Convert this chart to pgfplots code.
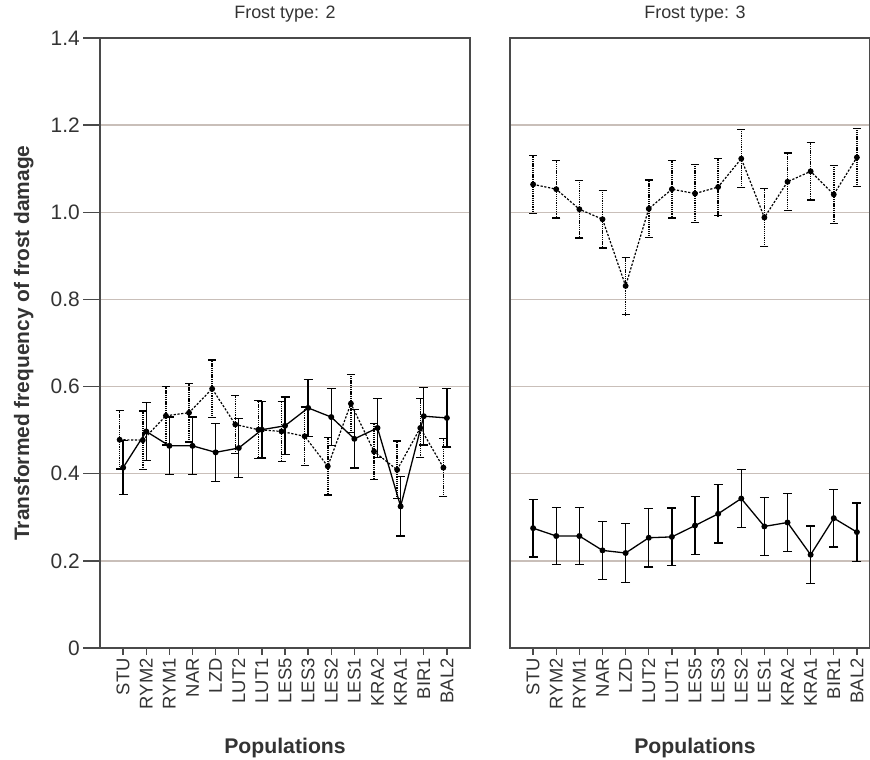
\documentclass[border=0pt]{standalone}
\usepackage{pgfplots}
\usepackage{pgfplotstable}
\pgfplotsset{compat=1.18}
\usepackage{fontspec}
\setmainfont{Liberation Sans}
\definecolor{framec}{HTML}{4A4A4A}
\definecolor{gridc}{HTML}{C9BFB9}

% x: category index (left dotted series is dodged a little to the left)
\pgfplotstableread{
x y e
-0.15 0.478 0.067
0.85 0.477 0.067
1.85 0.533 0.067
2.85 0.540 0.067
3.85 0.595 0.066
4.85 0.513 0.066
5.85 0.501 0.067
6.85 0.497 0.069
7.85 0.486 0.067
8.85 0.417 0.066
9.85 0.561 0.067
10.85 0.451 0.065
11.85 0.409 0.066
12.85 0.505 0.067
13.85 0.414 0.066
}\leftdot
\pgfplotstableread{
x y e
0 0.414 0.062
1 0.497 0.067
2 0.464 0.066
3 0.464 0.066
4 0.449 0.067
5 0.459 0.067
6 0.501 0.065
7 0.510 0.066
8 0.551 0.066
9 0.530 0.066
10 0.480 0.067
11 0.505 0.067
12 0.325 0.068
13 0.532 0.066
14 0.528 0.067
}\leftsolid
\pgfplotstableread{
x y e
0 1.064 0.066
1 1.053 0.066
2 1.007 0.066
3 0.984 0.066
4 0.831 0.066
5 1.008 0.066
6 1.053 0.066
7 1.043 0.067
8 1.058 0.066
9 1.123 0.067
10 0.988 0.066
11 1.070 0.066
12 1.094 0.066
13 1.041 0.067
14 1.126 0.067
}\rightdot
\pgfplotstableread{
x y e
0 0.275 0.066
1 0.257 0.066
2 0.257 0.066
3 0.224 0.067
4 0.218 0.067
5 0.253 0.067
6 0.255 0.066
7 0.281 0.067
8 0.308 0.067
9 0.343 0.067
10 0.279 0.067
11 0.288 0.067
12 0.214 0.066
13 0.298 0.066
14 0.266 0.067
}\rightsolid

\pgfplotsset{
  panel/.style={
    anchor=south west, scale only axis, height=610bp,
    ymin=0, ymax=1.4, xmin=-1,
    axis line style={draw=framec, line width=1.5bp},
    ytick={0.2,0.4,0.6,0.8,1.0,1.2}, yticklabels={},
    ymajorgrids, major grid style={draw=gridc, line width=1.4bp},
    xtick={0,...,14},
    xticklabels={STU,RYM2,RYM1,NAR,LZD,LUT2,LUT1,LES5,LES3,LES2,LES1,KRA2,KRA1,BIR1,BAL2},
    xticklabel style={rotate=90, anchor=east, font=\fontsize{18.5}{18.5}\selectfont, text=black!80},
    major tick length=6.7bp,
    x tick style={draw=framec, line width=1.4bp},
    y tick style={draw=none},
    tick align=outside, xtick pos=bottom, ytick pos=left,
    title style={anchor=base, font=\fontsize{18}{18}\selectfont, text=black!80},
    xlabel style={anchor=base, font=\bfseries\fontsize{21.3}{21.3}\selectfont, text=black!80},
    clip=false,
  },
  dotser/.style={black, line width=1.2bp, dash pattern=on 2.2bp off 1.6bp,
    mark=*, mark size=2.3bp, mark options={solid, fill=black},
    error bars/.cd, y dir=both, y explicit,
    error bar style={line width=1.5bp, dash pattern=on 1.3bp off 0.9bp},
    error mark options={rotate=90, mark size=4bp, solid, line width=1.2bp}},
  solser/.style={black, line width=1.3bp, solid,
    mark=*, mark size=2.3bp, mark options={solid, fill=black},
    error bars/.cd, y dir=both, y explicit,
    error bar style={line width=1.3bp, solid},
    error mark options={rotate=90, mark size=4.5bp, solid, line width=1.3bp}},
}

\begin{document}
\begin{tikzpicture}
\useasboundingbox (0,0) rectangle (870bp,760bp);
\begin{axis}[panel, at={(100bp,112bp)}, width=370bp, xmax=15,
  extra y ticks={0,0.2,0.4,0.6,0.8,1.0,1.2,1.4},
  extra y tick labels={0,0.2,0.4,0.6,0.8,1.0,1.2,1.4},
  extra y tick style={major tick length=16.7bp, grid=none,
    yticklabel style={font=\fontsize{21}{21}\selectfont, text=black!80},
    y tick style={draw=framec, line width=1.4bp}},
  title={Frost type: 2}, title style={at={(axis description cs:0.5,1.0215)}},
  xlabel={Populations}, xlabel style={at={(axis description cs:0.5,-0.173)}},
  ylabel={Transformed frequency of frost damage},
  ylabel style={at={(axis description cs:-0.206,0.5)}, anchor=center, rotate=0,
    font=\bfseries\fontsize{21}{21}\selectfont, text=black!80},
]
\addplot[dotser] table[x=x, y=y, y error=e] {\leftdot};
\addplot[solser] table[x=x, y=y, y error=e] {\leftsolid};
\end{axis}
\begin{axis}[panel, at={(510bp,112bp)}, width=360bp, xmax=14.567,
  title={Frost type: 3}, title style={at={(axis description cs:0.5139,1.0215)}},
  xlabel={Populations}, xlabel style={at={(axis description cs:0.5139,-0.173)}},
]
\addplot[dotser] table[x=x, y=y, y error=e] {\rightdot};
\addplot[solser] table[x=x, y=y, y error=e] {\rightsolid};
\end{axis}
\end{tikzpicture}
\end{document}
